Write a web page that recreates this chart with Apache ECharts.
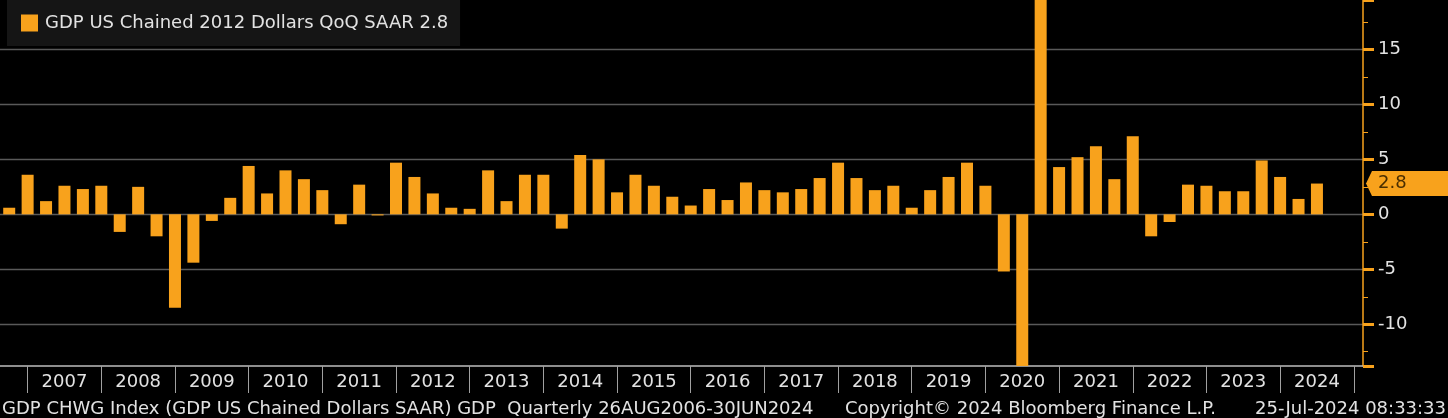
<!DOCTYPE html>
<html><head><meta charset="utf-8">
<script src="https://cdn.jsdelivr.net/npm/echarts@6/dist/echarts.min.js"></script>
<style>html,body{margin:0;padding:0;background:#000;overflow:hidden}#c{width:1448px;height:418px}</style>
</head><body><div id="c"></div>
<script>
// Quarter-end categories (bars sit at quarter end, years divided at Q4 ends)
const quarters = [
 '2006 Q3','2006 Q4',
 '2007 Q1','2007 Q2','2007 Q3','2007 Q4',
 '2008 Q1','2008 Q2','2008 Q3','2008 Q4',
 '2009 Q1','2009 Q2','2009 Q3','2009 Q4',
 '2010 Q1','2010 Q2','2010 Q3','2010 Q4',
 '2011 Q1','2011 Q2','2011 Q3','2011 Q4',
 '2012 Q1','2012 Q2','2012 Q3','2012 Q4',
 '2013 Q1','2013 Q2','2013 Q3','2013 Q4',
 '2014 Q1','2014 Q2','2014 Q3','2014 Q4',
 '2015 Q1','2015 Q2','2015 Q3','2015 Q4',
 '2016 Q1','2016 Q2','2016 Q3','2016 Q4',
 '2017 Q1','2017 Q2','2017 Q3','2017 Q4',
 '2018 Q1','2018 Q2','2018 Q3','2018 Q4',
 '2019 Q1','2019 Q2','2019 Q3','2019 Q4',
 '2020 Q1','2020 Q2','2020 Q3','2020 Q4',
 '2021 Q1','2021 Q2','2021 Q3','2021 Q4',
 '2022 Q1','2022 Q2','2022 Q3','2022 Q4',
 '2023 Q1','2023 Q2','2023 Q3','2023 Q4',
 '2024 Q1','2024 Q2','2024 Q3','2024 Q4'
];
// GDP QoQ SAAR, %
const gdpQoQ = [
 0.6, 3.6,
 1.2, 2.6, 2.3, 2.6,
 -1.6, 2.5, -2.0, -8.5,
 -4.4, -0.6, 1.5, 4.4,
 1.9, 4.0, 3.2, 2.2,
 -0.9, 2.7, -0.1, 4.7,
 3.4, 1.9, 0.6, 0.5,
 4.0, 1.2, 3.6, 3.6,
 -1.3, 5.4, 5.0, 2.0,
 3.6, 2.6, 1.6, 0.8,
 2.3, 1.3, 2.9, 2.2,
 2.0, 2.3, 3.3, 4.7,
 3.3, 2.2, 2.6, 0.6,
 2.2, 3.4, 4.7, 2.6,
 -5.2, -28.0, 34.8, 4.3,
 5.2, 6.2, 3.2, 7.1,
 -2.0, -0.7, 2.7, 2.6,
 2.1, 2.1, 4.9, 3.4,
 1.4, 2.8
];
const seriesName = 'GDP US Chained 2012 Dollars QoQ SAAR';
const footerLeft = 'GDP CHWG Index (GDP US Chained Dollars SAAR) GDP  Quarterly 26AUG2006-30JUN2024';
const footerMid = 'Copyright\u00A9 2024 Bloomberg Finance L.P.';
const footerRight = '25-Jul-2024 08:33:33';
const yMin = -13.8, yMax = 19.5;

const ORANGE = '#f8a21c';
const FONT = '"DejaVu Sans", sans-serif';
const TXT = '#e2e2e2';
const lastVal = gdpQoQ[gdpQoQ.length - 1];
const legendName = seriesName + ' ' + lastVal.toFixed(1);
const gridRight = 85;

const chart = echarts.init(document.getElementById('c'), null, {renderer: 'canvas'});
const option = {
  backgroundColor: '#000',
  animation: false,
  textStyle: {fontFamily: FONT},
  grid: {left: -1, right: gridRight, top: 0, bottom: 52, containLabel: false},
  legend: {
    left: 7, top: 0,
    backgroundColor: '#151515',
    padding: [14, 12, 14, 14],
    itemWidth: 17, itemHeight: 17, itemGap: 10,
    icon: 'rect',
    data: [legendName],
    textStyle: {color: TXT, fontSize: 18, fontFamily: FONT, padding: [0, 0, 0, 2]}
  },
  xAxis: {
    type: 'category', data: quarters, boundaryGap: true,
    axisLine: {show: true, onZero: false, lineStyle: {color: '#bdbdbd', width: 1.5}},
    axisTick: {show: true, alignWithLabel: true, interval: (i) => i % 4 === 1, length: 27,
      lineStyle: {color: '#a0a0a0', width: 1}},
    axisLabel: {interval: (i) => i % 4 === 3, formatter: (v) => v.slice(0, 4),
      color: TXT, fontSize: 18, fontFamily: FONT, margin: 7},
    splitLine: {show: false}
  },
  yAxis: {
    type: 'value', position: 'right', min: yMin, max: yMax, splitNumber: 7,
    axisLine: {show: true, lineStyle: {color: ORANGE, width: 1.5}},
    axisTick: {show: true, length: 11, lineStyle: {color: ORANGE, width: 3}},
    minorTick: {show: true, splitNumber: 2, length: 5, lineStyle: {color: ORANGE, width: 1}},
    axisLabel: {showMinLabel: false, showMaxLabel: false, color: TXT, fontSize: 18, fontFamily: FONT, margin: 15},
    splitLine: {show: true, showMinLine: false, showMaxLine: false, lineStyle: {color: '#595959', width: 1.3}}
  },
  series: [{
    name: legendName, type: 'bar', data: gdpQoQ, barWidth: 12,
    itemStyle: {color: ORANGE}, clip: true
  }]
};
chart.setOption(option);

// last-value tag on the axis, placed with the library's scale
const yPix = chart.convertToPixel({yAxisIndex: 0}, lastVal);
const ax = 1448 - gridRight;
chart.setOption({
  graphic: [
    {type: 'polygon', shape: {points: [[ax + 3, yPix], [ax + 9, yPix - 12.5], [1448, yPix - 12.5], [1448, yPix + 12.5], [ax + 9, yPix + 12.5]]},
     style: {fill: ORANGE}, z: 100},
    {type: 'text', x: ax + 15, y: yPix, z: 101,
     style: {text: lastVal.toFixed(1), fill: '#4a2e00', font: '18px ' + FONT, verticalAlign: 'middle'}},
    {type: 'text', x: 2, y: 409, style: {text: footerLeft, fill: TXT, font: '18px ' + FONT, verticalAlign: 'middle'}},
    {type: 'text', x: 845, y: 409, style: {text: footerMid, fill: TXT, font: '18px ' + FONT, verticalAlign: 'middle'}},
    {type: 'text', x: 1446, y: 409, style: {text: footerRight, fill: TXT, font: '18px ' + FONT, verticalAlign: 'middle', align: 'right'}}
  ]
});
</script>
</body></html>
